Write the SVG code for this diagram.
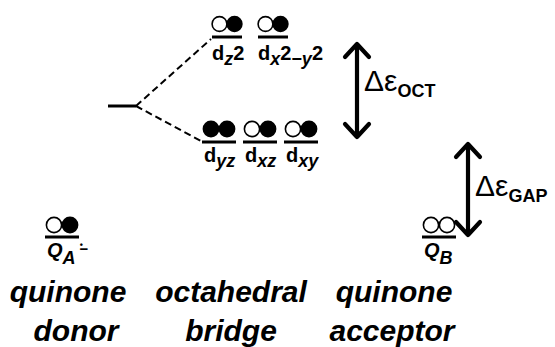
<svg xmlns="http://www.w3.org/2000/svg" width="555" height="347" viewBox="0 0 555 347">
<style>
.lvl{stroke:#000;stroke-width:3;fill:none}
.dash{stroke:#000;stroke-width:2;stroke-dasharray:7 4;fill:none}
.open{fill:#fff;stroke:#000;stroke-width:1.6}
.full{fill:#000;stroke:#000;stroke-width:1.6}
.arr{stroke:#000;stroke-width:4.2;fill:none;stroke-linecap:round;stroke-linejoin:round}
.d{font-family:"Liberation Sans",Arial,sans-serif;font-weight:bold;font-size:20px}
.sub{font-style:italic;font-size:18px}
.q{font-family:"Liberation Sans",Arial,sans-serif;font-weight:bold;font-style:italic;font-size:20px}
.de{font-family:"Liberation Sans",Arial,sans-serif;font-size:30px}
.des{font-size:18px;font-weight:bold}
.cap{font-family:"Liberation Sans",Arial,sans-serif;font-weight:bold;font-style:italic;font-size:30px;text-anchor:middle}
</style>
<g id="connectors">
<line class="lvl" x1="108" y1="106" x2="136" y2="106" stroke-width="2.5"/>
<line class="dash" x1="136" y1="106" x2="211" y2="39"/>
<line class="dash" x1="136" y1="106" x2="201" y2="141"/>
</g>
<g id="dz2">
<circle class="open" cx="219.5" cy="24" r="7.4"/><circle class="full" cx="234.5" cy="24" r="7.4"/>
<line class="lvl" x1="212" y1="37" x2="242" y2="37"/>
<text class="d" x="212" y="60">d<tspan class="sub" dy="5">z</tspan><tspan dy="-5">2</tspan></text>
</g>
<g id="dx2y2">
<circle class="open" cx="265.5" cy="24" r="7.4"/><circle class="full" cx="280.5" cy="24" r="7.4"/>
<line class="lvl" x1="258" y1="37" x2="288" y2="37"/>
<text class="d" x="258" y="60">d<tspan class="sub" dy="5">x</tspan><tspan dy="-5">2</tspan><tspan class="sub" dy="5">−y</tspan><tspan dy="-5">2</tspan></text>
</g>
<g id="dyz">
<circle class="full" cx="211" cy="129" r="7.6"/><circle class="full" cx="227" cy="129" r="7.6"/>
<line class="lvl" x1="202" y1="142" x2="236" y2="142"/>
<text class="d" x="204" y="162">d<tspan class="sub" dy="5">yz</tspan></text>
</g>
<g id="dxz">
<circle class="open" cx="252" cy="129" r="7.6"/><circle class="full" cx="268" cy="129" r="7.6"/>
<line class="lvl" x1="243" y1="142" x2="277" y2="142"/>
<text class="d" x="245" y="162">d<tspan class="sub" dy="5">xz</tspan></text>
</g>
<g id="dxy">
<circle class="open" cx="293" cy="129" r="7.6"/><circle class="full" cx="309" cy="129" r="7.6"/>
<line class="lvl" x1="284" y1="142" x2="318" y2="142"/>
<text class="d" x="286" y="162">d<tspan class="sub" dy="5">xy</tspan></text>
</g>
<g id="oct">
<path class="arr" d="M357 44V137M345 57L357 44L369 57M345 124L357 137L369 124"/>
<text class="de" x="364" y="91">Δε<tspan class="des" dy="6">OCT</tspan></text>
</g>
<g id="gap">
<path class="arr" d="M468 144V235M456 157L468 144L480 157M456 222L468 235L480 222"/>
<text class="de" x="475" y="196">Δε<tspan class="des" dy="6">GAP</tspan></text>
</g>
<g id="qa">
<circle class="open" cx="54" cy="225" r="7.6"/><circle class="full" cx="70" cy="225" r="7.6"/>
<line class="lvl" x1="45" y1="237" x2="79" y2="237"/>
<text class="q" x="47" y="257">Q<tspan font-size="18" dy="7">A</tspan><tspan font-size="15" font-style="normal" dx="4" dy="-10">−</tspan><tspan font-size="9" font-style="normal" dx="-8.5" dy="-6">•</tspan></text>
</g>
<g id="qb">
<circle class="open" cx="431" cy="225" r="7.6"/><circle class="open" cx="447" cy="225" r="7.6"/>
<line class="lvl" x1="422" y1="237" x2="456" y2="237"/>
<text class="q" x="424" y="257">Q<tspan font-size="18" dy="7">B</tspan></text>
</g>
<g id="captions">
<text class="cap" x="68" y="302">quinone</text>
<text class="cap" x="76" y="341">donor</text>
<text class="cap" x="231" y="302">octahedral</text>
<text class="cap" x="231" y="341">bridge</text>
<text class="cap" x="394" y="302">quinone</text>
<text class="cap" x="392" y="341">acceptor</text>
</g>
</svg>
